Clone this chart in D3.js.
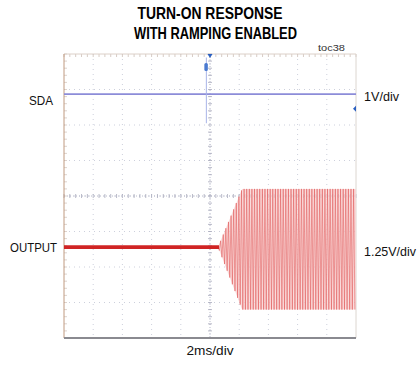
<!DOCTYPE html>
<html><head><meta charset="utf-8">
<script src="https://cdn.jsdelivr.net/npm/d3@7"></script>
<style>html,body{margin:0;padding:0;background:#fff;}svg{display:block;}</style>
</head><body>
<script>
// ---- data ----
const titleLines = ["TURN-ON RESPONSE", "WITH RAMPING ENABLED"];
const noteLabel = "toc38";
const channelNames = ["SDA", "OUTPUT"];
const channelScales = ["1V/div", "1.25V/div"];
const timeScaleLabel = "2ms/div";
const gridTimeMs = [-10, -8, -6, -4, -2, 0, 2, 4, 6, 8, 10];
const gridDivs = [-4, -3, -2, -1, 0, 1, 2, 3, 4];
// SDA trace (position in divisions)
const sdaTime = [-10, 10];
const sdaDiv = [2.87, 2.87];
const sdaGlitchTime = -0.25;
const sdaGlitchDiv = [3.9, 2.05];
// OUTPUT envelope (volts), channel offset in divisions
const outOffsetDiv = -1.44;
const outVoltsPerDiv = 1.25;
const outTime = [-10, 0.55, 2.2, 10];
const outUpperV = [0, 0, 2.05, 2.05];
const outLowerV = [0, 0, -2.2, -2.2];
const outCyclesPerMs = 5.6;

// ---- layout ----
const W = 419, H = 368;
const L = 64, R = 356, T = 54, B = 338;
const svg = d3.select("body").append("svg").attr("width", W).attr("height", H);
const x = d3.scaleLinear().domain([-10, 10]).range([L, R]);
const y = d3.scaleLinear().domain([-4, 4]).range([B, T]);
const font = "'Liberation Sans', Arial, sans-serif";

function label(txt, px, py, anchor, size, len, weight) {
  return svg.append("text").attr("x", px).attr("y", py).attr("text-anchor", anchor)
    .attr("font-family", font).attr("font-size", size).attr("font-weight", weight || "normal")
    .attr("fill", "#111").attr("textLength", len).attr("lengthAdjust", "spacingAndGlyphs")
    .text(txt);
}

// title
label(titleLines[0], 210, 19, "middle", 16.5, 145, "bold").attr("fill", "#000");
label(titleLines[1], 215.5, 39, "middle", 16.5, 163, "bold").attr("fill", "#000");
label(noteLabel, 331.5, 51, "middle", 9, 27).attr("fill", "#333");

// grid
const g = svg.append("g");
g.selectAll("line.gx").data(gridTimeMs.slice(1, -1)).enter().append("line")
  .attr("x1", d => x(d)).attr("x2", d => x(d)).attr("y1", T).attr("y2", B)
  .attr("stroke", "#cdd0dc").attr("stroke-width", 1).attr("stroke-dasharray", "1,4");
g.selectAll("line.gy").data(gridDivs.slice(1, -1)).enter().append("line")
  .attr("x1", L).attr("x2", R).attr("y1", d => y(d)).attr("y2", d => y(d))
  .attr("stroke", "#cdd0dc").attr("stroke-width", 1).attr("stroke-dasharray", "1,4");
// center axes with minor ticks
const minorX = d3.range(-10, 10.01, 0.4);
const minorY = d3.range(-4, 4.01, 0.2);
g.append("line").attr("x1", L).attr("x2", R).attr("y1", y(0)).attr("y2", y(0))
  .attr("stroke", "#b8bacb").attr("stroke-dasharray", "1,2");
g.append("line").attr("x1", x(0)).attr("x2", x(0)).attr("y1", T).attr("y2", B)
  .attr("stroke", "#b8bacb").attr("stroke-dasharray", "1,2");
g.selectAll("line.mx").data(minorX).enter().append("line")
  .attr("x1", d => x(d)).attr("x2", d => x(d)).attr("y1", y(0) - 2).attr("y2", y(0) + 2)
  .attr("stroke", "#a8aabb").attr("stroke-width", 0.8);
g.selectAll("line.my").data(minorY).enter().append("line")
  .attr("x1", x(0) - 2).attr("x2", x(0) + 2).attr("y1", d => y(d)).attr("y2", d => y(d))
  .attr("stroke", "#a8aabb").attr("stroke-width", 0.8);
g.selectAll("line.tt").data(minorX).enter().append("line")
  .attr("x1", d => x(d)).attr("x2", d => x(d)).attr("y1", T).attr("y2", T + 3)
  .attr("stroke", "#cdbfb6").attr("stroke-width", 0.8);
g.selectAll("line.lt").data(minorY).enter().append("line")
  .attr("x1", L).attr("x2", L + 3).attr("y1", d => y(d)).attr("y2", d => y(d))
  .attr("stroke", "#d4c8c0").attr("stroke-width", 0.8);
// frame
g.append("line").attr("x1", L).attr("x2", R).attr("y1", T).attr("y2", T).attr("stroke", "#dcd0c8");
g.append("line").attr("x1", L).attr("x2", L).attr("y1", T).attr("y2", B).attr("stroke", "#c09a80");
g.append("line").attr("x1", R).attr("x2", R).attr("y1", T).attr("y2", B).attr("stroke", "#dcd6d0");
g.append("line").attr("x1", L).attr("x2", R).attr("y1", B).attr("y2", B).attr("stroke", "#8a8a90").attr("stroke-width", 1.8);

// SDA trace
const sdaLine = d3.line().x((d, i) => x(sdaTime[i])).y(d => y(d));
svg.append("path").attr("d", sdaLine(sdaDiv)).attr("fill", "none")
  .attr("stroke", "#8c8cd8").attr("stroke-width", 1.6);
svg.append("line").attr("x1", x(sdaGlitchTime)).attr("x2", x(sdaGlitchTime))
  .attr("y1", y(sdaGlitchDiv[0])).attr("y2", y(sdaGlitchDiv[1]))
  .attr("stroke", "#a8b4e8").attr("stroke-width", 1);
svg.append("rect").attr("x", x(sdaGlitchTime) - 2).attr("y", y(3.75)).attr("width", 3.5).attr("height", 8)
  .attr("rx", 1.5).attr("fill", "#4a7ad0");
// trigger marker top and level marker right
svg.append("path").attr("d", `M${x(0) - 2.5},${T} L${x(0) + 2.5},${T} L${x(0)},${T + 4} Z`).attr("fill", "#2a5fc0");
svg.append("path").attr("d", `M${R - 3},${y(2.46)} L${R},${y(2.46) - 3} L${R},${y(2.46) + 3} Z`).attr("fill", "#2a5fc0");

// OUTPUT trace
const yOut = v => y(outOffsetDiv + v / outVoltsPerDiv);
const upperAt = d3.scaleLinear().domain(outTime).range(outUpperV);
const lowerAt = d3.scaleLinear().domain(outTime).range(outLowerV);
const tStart = outTime[1];
// faint envelope fill
const envPts = d3.range(tStart, 10.0001, 0.05);
svg.append("path").attr("d", d3.area().x(t => x(t)).y0(t => yOut(lowerAt(t))).y1(t => yOut(upperAt(t)))(envPts))
  .attr("fill", "#f8d0d0").attr("opacity", 0.75);
// oscillation
const halfPeriod = 0.5 / outCyclesPerMs;
const osc = [];
let k = 0;
for (let t = tStart; t <= 10 + 1e-9; t += halfPeriod, k++) {
  osc.push([t, k % 2 === 0 ? upperAt(t) : lowerAt(t)]);
}
svg.append("path").attr("d", d3.line().x(d => x(d[0])).y(d => yOut(d[1]))(osc))
  .attr("fill", "none").attr("stroke", "#e05a5a").attr("stroke-width", 0.7).attr("opacity", 0.8);
// flat part
svg.append("line").attr("x1", x(-10)).attr("x2", x(tStart) + 1)
  .attr("y1", yOut(0)).attr("y2", yOut(0))
  .attr("stroke", "#d02424").attr("stroke-width", 3.8);

// labels
label(channelNames[0], 53, 105, "end", 13.5, 24);
label(channelNames[1], 57, 252, "end", 13.5, 47);
label(channelScales[0], 364, 101, "start", 13.5, 35);
label(channelScales[1], 364, 256, "start", 13.5, 52);
label(timeScaleLabel, 210, 355, "middle", 13.5, 47);
</script>
</body></html>
